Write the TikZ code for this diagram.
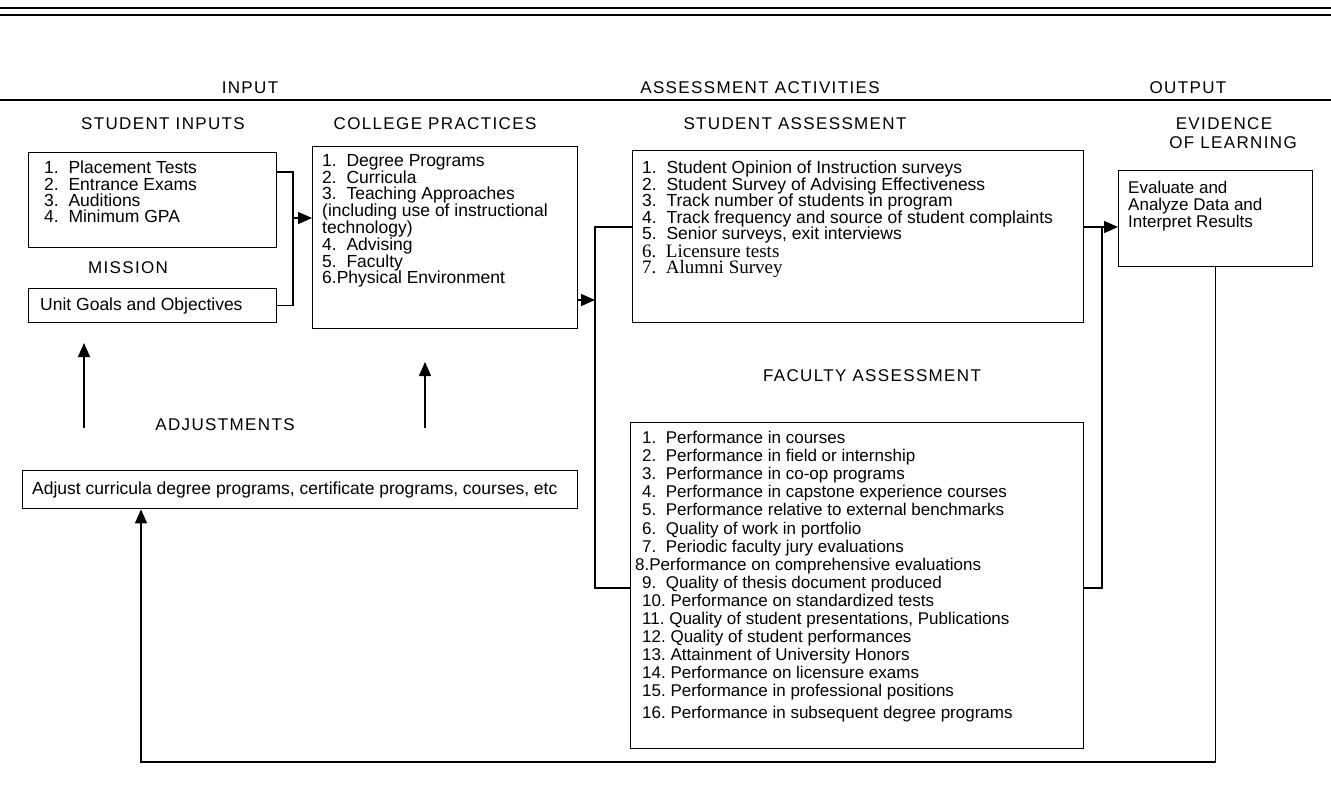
\documentclass[tikz,border=0pt]{standalone}
\usepackage{fontspec}
\setmainfont{Liberation Sans}
\newfontfamily\timesface{Liberation Serif}
\newfontfamily\capsface[LetterSpace=8]{Liberation Sans}
\usetikzlibrary{arrows.meta,calc}

\begin{document}
\begin{tikzpicture}[
  x=1pt, y=-1pt,
  >={Triangle[length=14pt,width=12pt]},
  head/.style={font=\capsface\fontsize{17}{19}\selectfont, inner sep=0pt},
  box/.style={draw, line width=1.4pt, anchor=north west, inner sep=0pt},
  items/.style={anchor=north west, inner sep=0pt, align=left},
  link/.style={line width=1.4pt},
  arr/.style={->, line width=1.4pt},
]
\useasboundingbox (0,0) rectangle (1331,811);

%% rules and column headings
\draw[link] (0,8) -- (1331,8);
\draw[link] (0,15) -- (1331,15);
\draw[link] (0,100) -- (1331,100);
\node[head] (hinput)  at (250,88)  {INPUT};
\node[head] (hassess) at (760,88)  {ASSESSMENT ACTIVITIES};
\node[head] (houtput) at (1188,88) {OUTPUT};

%% INPUT
\node[head] (tsin)  at (163,124) {STUDENT INPUTS};
\node[box, minimum width=248pt, minimum height=95pt] (sin) at (28,152) {};
\node[items, font=\fontsize{17.5}{16.3}\selectfont] (lsin) at (44,161)
  {1.\ \ Placement Tests\\2.\ \ Entrance Exams\\3.\ \ Auditions\\4.\ \ Minimum GPA};

\node[head] (tmis) at (128,268) {MISSION};
\node[box, minimum width=248pt, minimum height=34pt] (goals) at (28,288) {};
\node[items, font=\fontsize{17.5}{17}\selectfont] (lgoals) at (40,298) {Unit Goals and Objectives};

\node[head] (tcol) at (435,124) {COLLEGE PRACTICES};
\node[box, minimum width=265pt, minimum height=182pt] (col) at (312,146) {};
\node[items, font=\fontsize{17.5}{16.8}\selectfont] (lcol) at (322,154)
  {1.\ \ Degree Programs\\2.\ \ Curricula\\3.\ \ Teaching Approaches\\
   (including use of instructional\\technology)\\4.\ \ Advising\\5.\ \ Faculty\\
   6.Physical Environment};

% joins between inputs and college practices
\coordinate (jin) at (293,218);
\draw[link] ([yshift=-20pt]sin.north east) -| (jin) |- (goals.east);
\draw[arr] (jin) -- (jin -| col.west);

%% ASSESSMENT ACTIVITIES
\node[head] (tsa) at (795,124) {STUDENT ASSESSMENT};
\node[box, minimum width=451pt, minimum height=172pt] (sa) at (632,150) {};
\node[items, font=\fontsize{17.5}{16.5}\selectfont] (lsa) at (642,161)
  {1.\ \ Student Opinion of Instruction surveys\\
   2.\ \ Student Survey of Advising Effectiveness\\
   3.\ \ Track number of students in program\\
   4.\ \ Track frequency and source of student complaints\\
   5.\ \ Senior surveys, exit interviews\\[1pt]
   {\timesface\fontsize{19}{18}\selectfont 6.\ \ Licensure tests}\\
   {\timesface\fontsize{19}{18}\selectfont 7.\ \ Alumni Survey}};

\node[head] (tfa) at (872,376) {FACULTY ASSESSMENT};
\node[box, minimum width=453pt, minimum height=326pt] (fa) at (630,422) {};
\node[items, font=\fontsize{17}{18.1}\selectfont] (lfa) at (642,431)
  {1.\ \ Performance in courses\\
   2.\ \ Performance in field or internship\\
   3.\ \ Performance in co-op programs\\
   4.\ \ Performance in capstone experience courses\\
   5.\ \ Performance relative to external benchmarks\\
   6.\ \ Quality of work in portfolio\\
   7.\ \ Periodic faculty jury evaluations\\
   \hspace*{-7pt}8.Performance on comprehensive evaluations\\
   9.\ \ Quality of thesis document produced\\
   10.\ Performance on standardized tests\\
   11.\ Quality of student presentations, Publications\\
   12.\ Quality of student performances\\
   13.\ Attainment of University Honors\\
   14.\ Performance on licensure exams\\
   15.\ Performance in professional positions\\[3pt]
   16.\ Performance in subsequent degree programs};

% college practices feed both assessments
\coordinate (jt) at (595,227);
\coordinate (jb) at (595,588);
\draw[arr] (col.east |- 0,300) -- (jt |- 0,300);
\draw[link] (sa.west |- jt) -- (jt) -- (jb) -- (fa.west |- jb);

%% OUTPUT
\node[head, align=center] (tev) at (1233,133) {EVIDENCE\hspace*{18pt}\\OF LEARNING};
\node[box, minimum width=194pt, minimum height=96pt] (ev) at (1118,170) {};
\node[items, font=\fontsize{17}{17}\selectfont] (lev) at (1128,181)
  {Evaluate and\\Analyze Data and\\Interpret Results};

\coordinate (kt) at (1102,227);
\coordinate (kb) at (1102,588);
\draw[link] (fa.east |- kb) -- (kb) -- (kt);
\draw[arr] (sa.east |- kt) -- (ev.west |- kt);

%% ADJUSTMENTS
\node[head] (tadj) at (225,425) {ADJUSTMENTS};
\node[box, minimum width=555pt, minimum height=38pt] (adj) at (22,470) {};
\node[items, font=\fontsize{17.5}{17}\selectfont] (ladj) at (32,482)
  {Adjust curricula degree programs, certificate programs, courses, etc};

\coordinate (ua) at (84,428);
\coordinate (ub) at (84,343);
\coordinate (uc) at (425,428);
\coordinate (ud) at (425,362);
\draw[arr] (ua) -- (ub);
\draw[arr] (uc) -- (ud);

% feedback loop from evidence back to adjustments
\coordinate (fb) at (141,762);
\draw[arr] (ev.south) |- (fb) -- (fb |- adj.south);

\end{tikzpicture}
\end{document}
